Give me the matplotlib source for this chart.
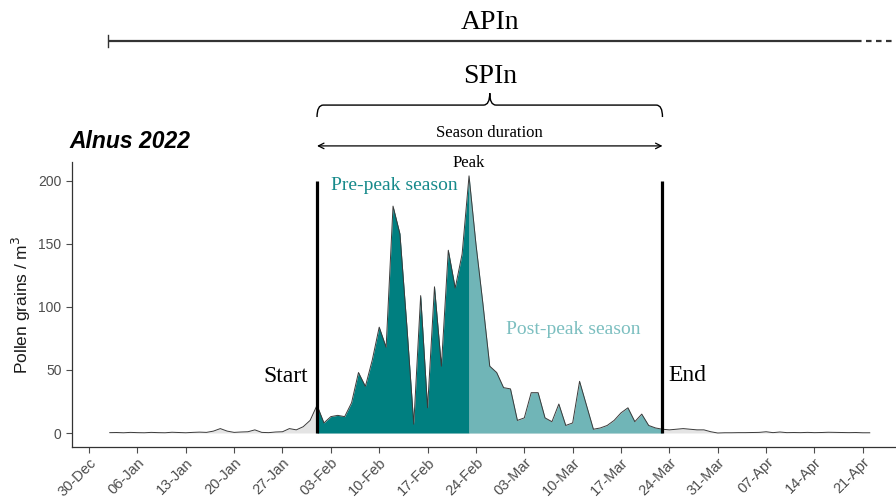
import numpy as np
import pandas as pd
import matplotlib
matplotlib.use('Agg')
import matplotlib.pyplot as plt
import matplotlib.dates as mdates
import matplotlib.transforms as mtransforms
from matplotlib.path import Path
from matplotlib.patches import PathPatch

# daily Alnus counts, 02-Jan-2022 .. 22-Apr-2022
dates = pd.date_range('2022-01-02', '2022-04-22', freq='D')
pollen = [
    0.3, 0.4, 0.2, 0.5, 0.3, 0.2, 0.5, 0.3, 0.2, 0.6,
    0.4, 0.2, 0.5, 0.7, 0.5, 1.5, 3.5, 1.5, 0.5, 0.8,
    1.0, 2.5, 0.5, 0.3, 0.8, 1.0, 3.5, 2.5, 5.0, 10.0,
    22, 8, 13, 14, 13, 24, 48, 37, 58, 84,
    68, 180, 158, 85, 7, 109, 20, 116, 53, 145,
    115, 142, 204, 150, 103, 53, 48, 36, 35, 10,
    12, 32, 32, 12, 9, 23, 6, 8, 41, 22,
    3, 4, 6, 10, 16, 20, 9, 15, 6, 4,
    3, 2.5, 3.0, 3.5, 3.0, 2.5, 2.5, 1.0, 0.0, 0.2,
    0.2, 0.3, 0.3, 0.4, 0.5, 1.0, 0.3, 0.8, 0.3, 0.4,
    0.3, 0.5, 0.3, 0.4, 0.6, 0.5, 0.4, 0.3, 0.4, 0.2,
    0.2,
]
season_start = pd.Timestamp('2022-02-01')
season_peak = pd.Timestamp('2022-02-23')
season_end = pd.Timestamp('2022-03-23')
tick_dates = pd.date_range('2021-12-30', '2022-04-21', freq='7D')

s = pd.Series(pollen, index=dates)
pre = s[season_start:season_peak]
post = s[season_peak:season_end]

plt.rcParams['font.family'] = ['Liberation Sans', 'DejaVu Sans']
serif = 'Liberation Serif'
teal = '#007f80'
teal_light = '#70b5b7'

fig = plt.figure(figsize=(8.96, 4.98), dpi=100)
ax = fig.add_axes([0.0804, 0.1024, 0.9196, 0.5723])

ax.fill_between(s.index, 0, s.values, color='#e4e4e4', lw=0)
ax.fill_between(pre.index, 0, pre.values, color=teal, lw=0)
ax.fill_between(post.index, 0, post.values, color=teal_light, lw=0)
ax.plot(s.index, s.values, color='#3a3a3a', lw=0.7)
ax.vlines([season_start, season_end], 0, 200, color='black', lw=2.3)

ax.set_xlim(pd.Timestamp('2021-12-30') - pd.Timedelta(days=2.46),
            pd.Timestamp('2021-12-30') + pd.Timedelta(days=116.8))
ax.set_ylim(-11.1, 215)
ax.set_yticks([0, 50, 100, 150, 200])
ax.set_xticks(tick_dates)
ax.xaxis.set_major_formatter(mdates.DateFormatter('%d-%b'))
ax.tick_params(colors='#4d4d4d', labelsize=10, length=4, width=0.8)
ax.tick_params(axis='x', labelsize=10.5, pad=2)
plt.setp(ax.get_xticklabels(), rotation=45, ha='right', rotation_mode='anchor')
for sp in ['top', 'right']:
    ax.spines[sp].set_visible(False)
for sp in ['left', 'bottom']:
    ax.spines[sp].set_color('#333333')
    ax.spines[sp].set_linewidth(0.9)
ax.set_ylabel('Pollen grains / m$^3$', fontsize=12.5, color='#1a1a1a', labelpad=4)

# labels inside the plot
ax.text(season_peak, 214, 'Peak', family=serif, fontsize=12, ha='center', va='center',
        clip_on=False)
ax.text(season_start + pd.Timedelta(days=2), 196, 'Pre-peak season', family=serif,
        fontsize=14, color='#178a8b', ha='left', va='center')
ax.text(season_peak + pd.Timedelta(days=5.3), 82, 'Post-peak season', family=serif,
        fontsize=14, color='#7cbfc0', ha='left', va='center')
ax.text(season_start - pd.Timedelta(days=1.3), 44.5, 'Start', family=serif,
        fontsize=17, ha='right', va='center')
ax.text(season_end + pd.Timedelta(days=0.8), 46, 'End', family=serif,
        fontsize=17, ha='left', va='center')

fig.text(0.078, 0.715, 'Alnus 2022', fontsize=16.5, fontweight='bold', style='italic',
         ha='left', va='center')

# annotations above the axes: x in data, y in figure fraction
tr = mtransforms.blended_transform_factory(ax.transData, fig.transFigure)
mid = season_start + (season_end - season_start) / 2
x0 = mdates.date2num(season_start)
x1 = mdates.date2num(season_end)
xm = mdates.date2num(mid)

# APIn bar
a0 = mdates.date2num(dates[0]) - 0.2
a1 = mdates.date2num(pd.Timestamp('2022-04-20'))
a2 = mdates.date2num(pd.Timestamp('2021-12-30')) + 116.8
ax.plot([a0, a1], [0.918, 0.918], transform=tr, color='#333333', lw=1.6,
        clip_on=False, solid_capstyle='butt')
ax.plot([a1, a2], [0.918, 0.918], transform=tr, color='#333333', lw=1.6,
        ls=(0, (2.5, 2)), clip_on=False)
ax.plot([a0, a0], [0.906, 0.930], transform=tr, color='#333333', lw=1.0, clip_on=False)
ax.text(xm, 0.955, 'APIn', transform=tr, family=serif, fontsize=20, ha='center', va='center')

# SPIn brace
ax.text(xm, 0.847, 'SPIn', transform=tr, family=serif, fontsize=20, ha='center', va='center')
yb, yh, yt = 0.765, 0.789, 0.813
verts = [(x0, yb), (x0, yh), (x0 + 0.9, yh),
         (xm - 0.9, yh),
         (xm, yh), (xm, yt),
         (xm, yh), (xm + 0.9, yh),
         (x1 - 0.9, yh),
         (x1, yh), (x1, yb)]
codes = [Path.MOVETO, Path.CURVE3, Path.CURVE3,
         Path.LINETO,
         Path.CURVE3, Path.CURVE3,
         Path.CURVE3, Path.CURVE3,
         Path.LINETO,
         Path.CURVE3, Path.CURVE3]
brace = PathPatch(Path(verts, codes), transform=tr, fill=False, ec='black', lw=1.0,
                  clip_on=False)
ax.add_patch(brace)

# season duration arrow
ax.annotate('', xy=(x0, 0.707), xytext=(x1, 0.707), xycoords=tr, textcoords=tr,
            arrowprops=dict(arrowstyle='<->', color='black', lw=0.9,
                            shrinkA=0, shrinkB=0))
ax.text(xm, 0.733, 'Season duration', transform=tr, family=serif, fontsize=12,
        ha='center', va='center')

fig.savefig('out.png', dpi=100)
